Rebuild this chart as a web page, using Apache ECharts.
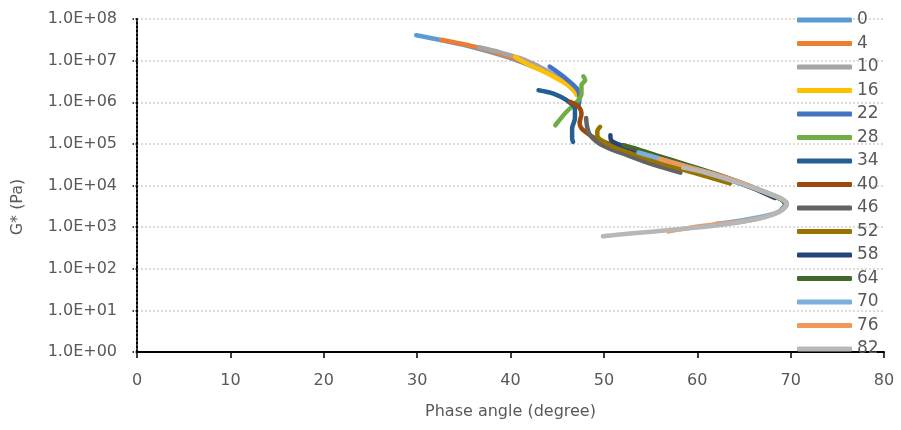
<!DOCTYPE html>
<html>
<head>
<meta charset="utf-8">
<script src="https://cdn.jsdelivr.net/npm/echarts@6/dist/echarts.min.js"></script>
<style>
  html, body { margin: 0; padding: 0; background: #fff; }
  #chart { width: 901px; height: 430px; }
</style>
</head>
<body>
<div id="chart"></div>
<script>
// Test temperatures (°C), one curve each
const temps = ['0', '4', '10', '16', '22', '28', '34', '40', '46', '52', '58', '64', '70', '76', '82'];

// Phase angle (degree) and complex modulus G* (Pa) per temperature
const phase0 = [29.9, 32.6, 36.0, 40.0, 43.0];
const gstar0 = [4.07e7, 3.09e7, 2.09e7, 1.15e7, 6.3e6];

const phase4 = [32.6, 36.6, 40.0, 43.2, 45.0];
const gstar4 = [3.16e7, 2.04e7, 1.2e7, 6.76e6, 3.8e6];

const phase10 = [36.6, 38.9, 41.5, 44.0, 46.0, 46.9];
const gstar10 = [2.09e7, 1.58e7, 1.05e7, 5.6e6, 2.8e6, 1.78e6];

const phase16 = [40.5, 41.7, 44.2, 46.4, 47.1];
const gstar16 = [1.23e7, 8.5e6, 4.6e6, 2.35e6, 1.48e6];

const phase22 = [44.2, 45.7, 47.1, 47.4, 47.3];
const gstar22 = [7.2e6, 4.1e6, 2.14e6, 1.35e6, 8.5e5];

const phase28 = [47.8, 48.0, 47.6, 47.6, 47.1, 46.0, 44.8];
const gstar28 = [4.2e6, 3.4e6, 2.6e6, 1.6e6, 1.02e6, 5.9e5, 2.8e5];

const phase34 = [43.0, 44.6, 46.0, 46.9, 46.9, 46.6, 46.6, 46.7];
const gstar34 = [1.95e6, 1.62e6, 1.12e6, 7.1e5, 4.1e5, 2.35e5, 1.35e5, 1.12e5];

const phase40 = [46.4, 47.3, 47.6, 47.4, 47.6, 48.2, 49.2, 50.6, 53.0, 55.5, 57.5];
const gstar40 = [1.02e6, 7.8e5, 5.2e5, 3.2e5, 2.35e5, 1.82e5, 1.32e5, 1.0e5, 5.75e4, 3.7e4, 2.7e4];

const phase46 = [48.1, 48.2, 48.5, 49.3, 50.5, 52.0, 55.3, 58.2];
const gstar46 = [4.17e5, 2.63e5, 1.66e5, 1.1e5, 7.9e4, 5.9e4, 3.16e4, 2.04e4];

const phase52 = [49.6, 49.3, 49.3, 50.3, 52.0, 55.0, 58.0, 61.4, 63.5];
const gstar52 = [2.57e5, 2.0e5, 1.58e5, 1.02e5, 7.2e4, 4.2e4, 2.57e4, 1.55e4, 1.12e4];

const phase58 = [50.7, 50.8, 51.8, 54.0, 57.0, 60.0, 63.0, 66.0, 68.3];
const gstar58 = [1.62e5, 1.2e5, 9.3e4, 6.3e4, 3.8e4, 2.4e4, 1.48e4, 8.5e3, 5.0e3];

const phase64 = [52.1, 53.5, 56.0, 59.0, 62.0, 65.0, 67.6, 69.0, 69.4, 69.0];
const gstar64 = [9.3e4, 7.6e4, 5.0e4, 3.1e4, 1.9e4, 1.1e4, 6.3e3, 4.6e3, 3.55e3, 2.6e3];

const phase70 = [53.7, 56.0, 59.0, 62.0, 65.0, 67.8, 69.0, 69.5, 69.1, 68.2, 65.0, 62.0];
const gstar70 = [6.2e4, 4.4e4, 2.8e4, 1.82e4, 1.1e4, 6.3e3, 4.8e3, 3.7e3, 2.7e3, 2.1e3, 1.48e3, 1.2e3];

const phase76 = [56.0, 59.0, 62.0, 65.0, 67.8, 69.0, 69.6, 69.2, 68.2, 66.5, 64.6, 60.3, 56.9];
const gstar76 = [4.3e4, 2.8e4, 1.82e4, 1.1e4, 6.2e3, 4.8e3, 3.7e3, 2.7e3, 2.04e3, 1.58e3, 1.35e3, 1.05e3, 7.9e2];

const phase82 = [58.5, 61.0, 64.6, 67.8, 69.0, 69.6, 69.2, 68.2, 66.5, 63.5, 60.0, 57.1, 53.1, 49.9];
const gstar82 = [2.69e4, 2.0e4, 1.12e4, 6.2e3, 4.8e3, 3.7e3, 2.7e3, 2.04e3, 1.58e3, 1.2e3, 9.8e2, 8.5e2, 7.1e2, 6.0e2];

// Axis ticks
const xTicks = [0, 10, 20, 30, 40, 50, 60, 70, 80];
const yDecades = [0, 1, 2, 3, 4, 5, 6, 7, 8];

const phases = [phase0, phase4, phase10, phase16, phase22, phase28, phase34, phase40,
                phase46, phase52, phase58, phase64, phase70, phase76, phase82];
const moduli = [gstar0, gstar4, gstar10, gstar16, gstar22, gstar28, gstar34, gstar40,
                gstar46, gstar52, gstar58, gstar64, gstar70, gstar76, gstar82];

const colors = ['#5B9BD5', '#ED7D31', '#A5A5A5', '#FFC000', '#4472C4', '#70AD47', '#255E91',
                '#9E480E', '#636363', '#997300', '#264478', '#43682B', '#7CAFDD', '#F1975A', '#B7B7B7'];

const FONT = 'DejaVu Sans';
const TEXT = '#595959';

const series = temps.map((t, i) => ({
  name: t,
  type: 'line',
  data: phases[i].map((p, k) => [p, moduli[i][k]]),
  showSymbol: false,
  symbol: 'none',
  smooth: 0.3,
  lineStyle: { color: colors[i], width: 4.5, cap: 'round', join: 'round' },
  itemStyle: { color: colors[i] },
  emphasis: { disabled: true },
  z: 2 + i
}));

const chart = echarts.init(document.getElementById('chart'), null, { renderer: 'canvas' });
chart.setOption({
  animation: false,
  color: colors,
  grid: { left: 137, right: 17, top: 19, bottom: 78 },
  xAxis: {
    type: 'value',
    min: xTicks[0],
    max: xTicks[xTicks.length - 1],
    interval: xTicks[1] - xTicks[0],
    name: 'Phase angle (degree)',
    nameLocation: 'middle',
    nameGap: 52,
    nameTextStyle: { fontFamily: FONT, fontSize: 16, color: TEXT },
    axisLine: { lineStyle: { color: '#000', width: 2 } },
    axisTick: { length: 6, lineStyle: { color: '#000', width: 1.5 } },
    axisLabel: { margin: 21, fontFamily: FONT, fontSize: 16, color: TEXT },
    splitLine: { show: false }
  },
  yAxis: {
    type: 'log',
    logBase: 10,
    min: Math.pow(10, yDecades[0]),
    max: Math.pow(10, yDecades[yDecades.length - 1]),
    axisLine: { show: true, lineStyle: { color: '#000', width: 2, type: 'dotted' } },
    axisTick: { show: true, length: 5, lineStyle: { color: '#000', width: 1.5, type: 'dotted' } },
    axisLabel: {
      margin: 20, fontFamily: FONT, fontSize: 16, color: TEXT,
      formatter: v => {
        const e = Math.round(Math.log10(v));
        return '1.0E+' + (e < 10 ? '0' : '') + e;
      }
    },
    splitLine: { show: true, lineStyle: { color: '#D0D0D0', width: 1.5, type: [2, 2] } }
  },
  legend: {
    orient: 'vertical',
    left: 797,
    top: 10,
    padding: 0,
    itemWidth: 55,
    itemHeight: 5,
    itemGap: 3.5,
    icon: 'roundRect',
    data: temps,
    textStyle: { fontFamily: FONT, fontSize: 17, color: TEXT, lineHeight: 20 },
    selectedMode: false
  },
  graphic: [{
    type: 'text',
    x: 18,
    y: 207,
    rotation: Math.PI / 2,
    style: {
      text: 'G* (Pa)', fontFamily: FONT, fontSize: 16, fill: TEXT,
      align: 'center', verticalAlign: 'middle'
    }
  }],
  series: series
});
</script>
</body>
</html>
